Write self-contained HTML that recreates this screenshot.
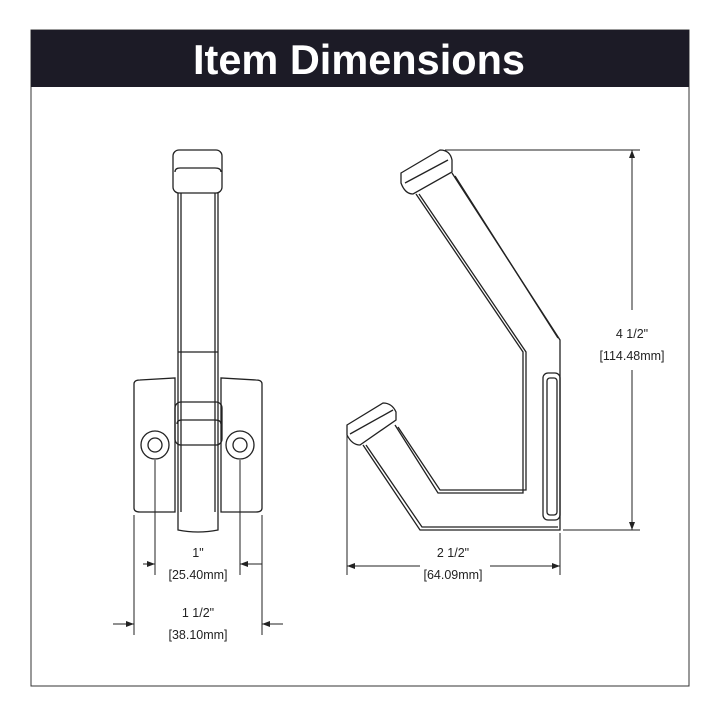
<!DOCTYPE html>
<html><head><style>body{margin:0;background:#fff}svg{display:block}</style></head><body>
<svg width="720" height="720" viewBox="0 0 720 720" xmlns="http://www.w3.org/2000/svg">
<rect x="31" y="30" width="658" height="656" fill="none" stroke="#333" stroke-width="1"/>
<rect x="31" y="30" width="658" height="57" fill="#1c1b26"/>
<text x="359" y="74" text-anchor="middle" font-family="Liberation Sans, sans-serif" font-weight="bold" font-size="42" fill="#fff" textLength="332" lengthAdjust="spacingAndGlyphs">Item Dimensions</text>
<defs><marker id="a" markerWidth="8" markerHeight="6" refX="8" refY="3" orient="auto" markerUnits="userSpaceOnUse"><path d="M0,0 L8,3 L0,6z" fill="#222"/></marker></defs>
<g fill="none" stroke="#222" stroke-width="1.3">
<!-- front view -->
<path d="M134,384 Q134,380 140,380 L175,378 L175,512 L140,512 Q134,512 134,508Z"/>
<path d="M262,384 Q262,380 256,380 L221,378 L221,512 L256,512 Q262,512 262,508Z"/>
<path d="M178,193 L178,530 Q198,534 218,530 L218,193"/>
<path d="M181,193 L181,512 M215,193 L215,512"/>
<line x1="178" y1="352" x2="218" y2="352"/>
<rect x="173" y="150" width="49" height="43" rx="6"/>
<path d="M175,172 Q175,168 180,168 L215,168 Q221,168 221,172"/>
<rect x="175" y="402" width="47" height="43" rx="6"/>
<path d="M177,424 Q177,420 182,420 L215,420 Q221,420 221,424"/>
<circle cx="155" cy="445" r="14"/><circle cx="155" cy="445" r="7"/>
<circle cx="240" cy="445" r="14"/><circle cx="240" cy="445" r="7"/>
<!-- side view -->
<path d="M401,173 L440,150 Q450,150 452,160 L452,172 L413,194 Q405,194 401,183Z"/>
<line x1="405" y1="183" x2="448" y2="160"/>
<path d="M452,173 L560,340 L560,530 L420,530 L363,445"/>
<path d="M455,176 L558,338 M416,194 L523,352 L523,493 L438,493 L395,425 M419,194 L526,352 L526,490 L440,490 L398,427 M366,445 L422,527 L558,527"/>
<path d="M347,425 L383,403 Q392,403 396,412 L396,420 L360,445 Q352,445 347,435Z"/>
<line x1="350" y1="434" x2="393" y2="410"/>
<rect x="543" y="373" width="17" height="147" rx="5"/>
<rect x="547" y="378" width="10" height="137" rx="3"/>
</g>
<g stroke="#222" stroke-width="1" fill="none">
<line x1="155" y1="460" x2="155" y2="575"/><line x1="240" y1="460" x2="240" y2="575"/>
<line x1="134" y1="515" x2="134" y2="635"/><line x1="262" y1="515" x2="262" y2="635"/>
<line x1="143" y1="564" x2="155" y2="564" marker-end="url(#a)"/><line x1="262" y1="564" x2="240" y2="564" marker-end="url(#a)"/>
<line x1="113" y1="624" x2="134" y2="624" marker-end="url(#a)"/><line x1="283" y1="624" x2="262" y2="624" marker-end="url(#a)"/>
<line x1="347" y1="432" x2="347" y2="575"/><line x1="560" y1="533" x2="560" y2="575"/>
<line x1="420" y1="566" x2="347" y2="566" marker-end="url(#a)"/><line x1="490" y1="566" x2="560" y2="566" marker-end="url(#a)"/>
<line x1="445" y1="150" x2="640" y2="150"/><line x1="563" y1="530" x2="640" y2="530"/>
<line x1="632" y1="310" x2="632" y2="150" marker-end="url(#a)"/><line x1="632" y1="370" x2="632" y2="530" marker-end="url(#a)"/>
</g>
<g font-family="Liberation Sans, sans-serif" font-size="12.5" fill="#222" text-anchor="middle">
<text x="198" y="557">1"</text><text x="198" y="579">[25.40mm]</text>
<text x="198" y="617">1 1/2"</text><text x="198" y="639">[38.10mm]</text>
<text x="453" y="557">2 1/2"</text><text x="453" y="579">[64.09mm]</text>
<text x="632" y="338">4 1/2"</text><text x="632" y="360">[114.48mm]</text>
</g>
</svg>
</body></html>
